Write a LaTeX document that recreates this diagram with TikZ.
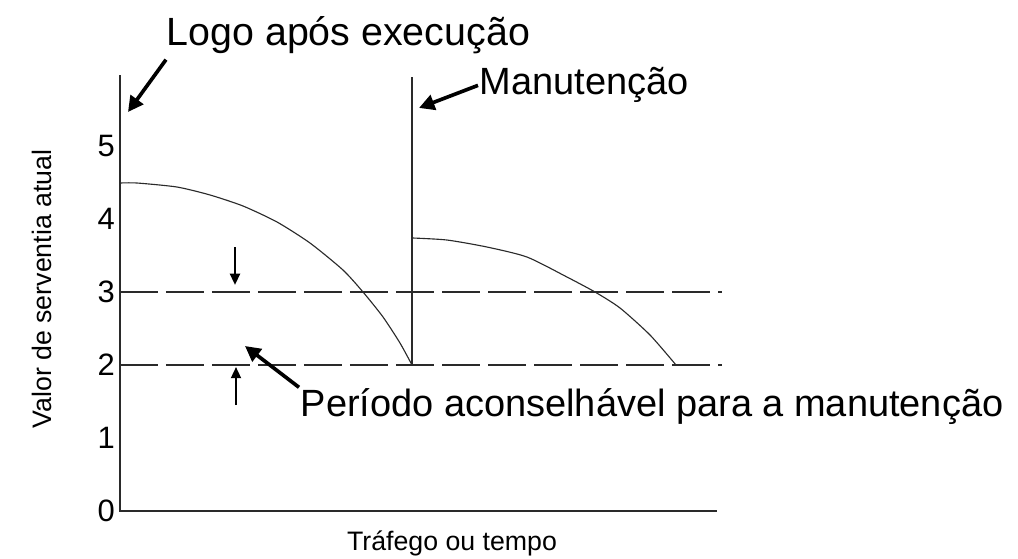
\documentclass[tikz,border=0pt]{standalone}
\usepackage{fontspec}
\setmainfont{Liberation Sans}
\usepackage{tikz}
\usetikzlibrary{calc,arrows.meta}
\definecolor{ink}{HTML}{000000}
\definecolor{line}{HTML}{2A2A2A}
\tikzset{
  axis/.style={draw=line, line width=0.9pt},
  curve/.style={draw=line, line width=0.8pt, line join=round},
  guide/.style={draw=line, line width=0.8pt, dash pattern=on 0.95cm off 0.2cm},
  callout/.style={draw=ink, line width=2.6pt, -{Triangle[length=11pt,width=11pt]}},
  mark2/.style={draw=ink, line width=1.7pt, -{Triangle[length=8pt,width=7pt]}},
  big/.style={text=ink, font=\fontsize{27}{30}\selectfont, inner sep=1pt},
  lab/.style={text=ink, font=\fontsize{19}{22}\selectfont},
  ticklab/.style={text=ink, font=\fontsize{22}{25}\selectfont, anchor=east, inner sep=0pt},
}
\begin{document}
\begin{tikzpicture}[x=0.25cm, y=1.825cm]
  \useasboundingbox (-12,-0.6575) rectangle (89.8,7.0);
  % axes
  \coordinate (O) at (0,0);
  \coordinate (ytop) at (0,5.97);
  \coordinate (xend) at (59.7,0);
  \draw[axis] (ytop) -- (O) -- (xend);
  \foreach \v in {0,...,5}
    \node[ticklab] (t\v) at (-0.5,\v) {\v};
  % limits 3 and 2
  \coordinate (g3) at (60.2,3);
  \coordinate (g2) at (60.2,2);
  \draw[guide] (0,3) -- (g3);
  \draw[guide] (0,2) -- (g2);
  % maintenance
  \coordinate (mbot) at (29.2,2);
  \coordinate (mtop) at (29.2,5.945);
  \draw[axis] (mbot) -- (mtop);
  \draw[curve] plot[smooth, tension=0.4] coordinates {(0,4.493) (1.7,4.493) (5.7,4.438)
    (9.0,4.329) (12.3,4.178) (15.7,3.959) (19.0,3.671) (22.3,3.301) (24.3,3.0)
    (26.3,2.658) (28.0,2.301) (29.2,2.0)};
  \draw[curve] plot[smooth, tension=0.4] coordinates {(29.2,3.740) (32.7,3.712)
    (36.7,3.616) (40.7,3.479) (44.7,3.205) (47.5,3.0) (50.0,2.781) (53.0,2.411)
    (55.6,2.0)};
  % labels
  \node[big, anchor=base west, font=\fontsize{28}{31}\selectfont] (logo) at (4.5,6.37) {Logo após execução};
  \node[big, anchor=base west] (manut) at (35.8,5.699) {Manutenção};
  \node[big, anchor=base west] (periodo) at (17.9,1.288) {Período aconselhável para a manutenção};
  \node[lab, rotate=90] (ylab) at (-7.8,3.041) {Valor de serventia atual};
  \node[lab] (xlab) at (33.2,-0.438) {Tráfego ou tempo};
  % arrows
  \coordinate (logohead) at (0.8,5.466);
  \coordinate (manuthead) at (29.9,5.521);
  \coordinate (perhead) at (12.5,2.26);
  \draw[callout] ($(logo.south west)+(0.1,-0.05)$) -- (logohead);
  \draw[callout] (manut.west) -- (manuthead);
  \draw[callout] (periodo.north west) -- (perhead);
  \coordinate (dtop) at (11.5,3.616);
  \coordinate (dtip) at (11.5,3.096);
  \coordinate (ubot) at (11.6,1.452);
  \coordinate (utip) at (11.6,1.973);
  \draw[mark2] (dtop) -- (dtip);
  \draw[mark2] (ubot) -- (utip);
\end{tikzpicture}
\end{document}
